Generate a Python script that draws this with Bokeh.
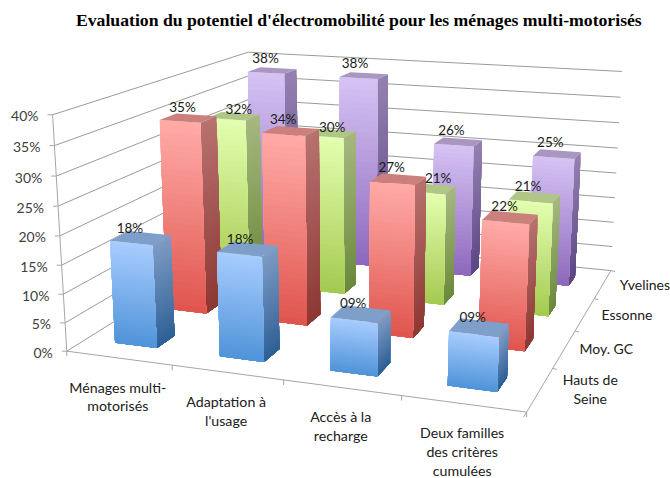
import numpy as np
from bokeh.plotting import figure
from bokeh.models import Range1d
from bokeh.core.properties import value
from bokeh.embed import file_html
from bokeh.resources import INLINE

title = "Evaluation du potentiel d'électromobilité pour les ménages multi-motorisés"
categories = ["Ménages multi-\nmotorisés", "Adaptation à\nl'usage", "Accès à la\nrecharge", "Deux familles\ndes critères\ncumulées"]
series_names = ["Hauts de\nSeine", "Moy. GC", "Essonne", "Yvelines"]
hauts_de_seine = [18, 18, 9, 9]
moy_gc = [35, 34, 27, 22]
essonne = [32, 30, 21, 21]
yvelines = [38, 38, 26, 25]
value_ticks = [0, 5, 10, 15, 20, 25, 30, 35, 40]

series_values = [hauts_de_seine, moy_gc, essonne, yvelines]
# front top, front bottom, side top, side bottom, top face
palette = [
    ("#A8CDFF", "#4F93D8", "#7E9CC4", "#2D5F95", "#7F9FCB"),
    ("#FFABA8", "#E0554D", "#B87270", "#8C3732", "#CC807D"),
    ("#E3FFB0", "#A4C94F", "#A6B880", "#6B893A", "#B0C686"),
    ("#D6C3F4", "#8D68BC", "#9581B1", "#5C4683", "#A997C2"),
]
# hand-placed data labels: nudge (dx, dy) from the automatic place
label_nudge = [
    [(-4, 2), (-1, 2), (-1, 1), (0, 1)],
    [(1, 1), (-1, 0), (0, 0), (1, 0)],
    [(12, 5), (9, 6), (15, 1), (0, 1)],
    [(0, -1), (-2, -1), (0, 0), (0, 0)],
]

# camera calibration: world (cat, depth, pct) -> picture pixel
world = np.array([(0,0,0),(4,0,0),(4,4,0),(0,0,40),(0,4,40),(4,4,40),(0,0,20),(4,4,20),
                  (1,0,0),(2,0,0),(3,0,0),(4,1,0),(4,2,0),(4,3,0)], float)
pix = np.array([(66,350),(525,411),(610,270),(52,114),(247,52),(621.5,71),(60,235),(616,173),
                (172,365),(283,380),(401,397),(553,367),(575,330),(594,298)], float)
w = world/np.array([4, 4, 40]); q_ = pix/500.0
weights = np.ones(len(w))
for _ in range(20):
    A = []
    for (X, Y, Z), (u, v), g in zip(w, q_, weights):
        A.append(g*np.array([X, Y, Z, 1, 0, 0, 0, 0, -u*X, -u*Y, -u*Z, -u]))
        A.append(g*np.array([0, 0, 0, 0, X, Y, Z, 1, -v*X, -v*Y, -v*Z, -v]))
    M = np.linalg.svd(np.array(A))[2][-1].reshape(3, 4)
    weights = 1/np.abs(M[2] @ np.c_[w, np.ones(len(w))].T)

def proj(x, y, z):
    h = M @ np.array([x/4, y/4, z/40, 1.0])
    return h[0]/h[2]*500, h[1]/h[2]*500

def hexrgb(c):
    return np.array([int(c[i:i+2], 16) for i in (1, 3, 5)], float)

def mix(c1, c2, t):
    r = hexrgb(c1)*(1-t) + hexrgb(c2)*t
    return "#%02x%02x%02x" % tuple(int(round(k)) for k in r)

p = figure(width=670, height=478, output_backend="svg", toolbar_location=None,
           x_range=Range1d(0, 670), y_range=Range1d(478, 0), min_border=0)
p.styles = {"position": "absolute", "left": "0px", "top": "0px"}
p.axis.visible = False
p.grid.visible = False
p.outline_line_color = None

# walls
gx, gy = [], []
for t in value_ticks:
    a, b, c = proj(0, 0, t), proj(0, 4, t), proj(4, 4, t)
    gx.append([a[0], b[0], c[0]]); gy.append([a[1], b[1], c[1]])
p.multi_line(gx, gy, line_color="#9a9a9a", line_width=1)

# axes
ax, ay = [], []
def seg(a, b):
    ax.append([a[0], b[0]]); ay.append([a[1], b[1]])
seg(proj(0, 0, 0), proj(0, 0, 40))
seg(proj(0, 0, 0), proj(4, 0, 0))
seg(proj(4, 0, 0), proj(4, 4, 0))
for t in value_ticks:
    a = proj(0, 0, t)
    seg(a, (a[0]-5, a[1]))
for i in range(5):
    a = proj(i, 0, 0)
    seg(a, (a[0], a[1]+5))
    b = proj(4, i, 0)
    seg(b, (b[0]+(-3 if i == 0 else 4), b[1]+(5 if i == 0 else 1)))
p.multi_line(ax, ay, line_color="#a6a6a6", line_width=1)

# bars
BX0, BX1, MY = 0.285, 0.69, 0.33
N = 32
xs, ys, cols = [], [], []
def quad(pts, col):
    xs.append([q[0] for q in pts]); ys.append([q[1] for q in pts]); cols.append(col)

for s in range(3, -1, -1):
    ft, fb, st, sb, tp = palette[s]
    for c in range(4):
        v = series_values[s][c]
        x0, x1, y0, y1 = c+BX0, c+BX1, s+MY, s+1-MY
        for k in range(N, 0, -1):
            z1 = v*k/N
            t = 1-(k-.5)/N
            quad([proj(x1,y0,0), proj(x1,y1,0), proj(x1,y1,z1), proj(x1,y0,z1)], mix(st, sb, t))
        for k in range(N, 0, -1):
            z1 = v*k/N
            t = 1-(k-.5)/N
            quad([proj(x0,y0,0), proj(x1,y0,0), proj(x1,y0,z1), proj(x0,y0,z1)], mix(ft, fb, t))
        quad([proj(x0,y0,v), proj(x1,y0,v), proj(x1,y1,v), proj(x0,y1,v)], tp)
p.patches(xs, ys, fill_color=cols, line_color=None)

def put(xv, yv, txt, size, align="center", color="#1a1a1a", font="Lato", style="normal"):
    p.text([xv], [yv], text=[txt], text_font=value(font), text_font_size=size, text_align=align,
           text_baseline="middle", text_color=color, text_font_style=style)

# data labels
for s in range(4):
    for c in range(4):
        v = series_values[s][c]
        q = proj(c+.5, s+.5, v)
        dx, dy = label_nudge[s][c]
        put(q[0]-8+dx, q[1]-12+dy, f"{v:02d}%", "13.5px")

# value labels
for t in value_ticks:
    q = proj(0, 0, t)
    put(q[0]-14, q[1]+1, f"{t}%", "14px", align="right", color="#404040")

# category labels
for c, lab in enumerate(categories):
    q = proj(c+.5, 0, 0)
    for i, line in enumerate(lab.split("\n")):
        put(q[0]-1, q[1]+29+i*18.8, line, "14.2px", color="#202020")

# series labels
for s, lab in enumerate(series_names):
    q = proj(4, s+.5, 0)
    lines = lab.split("\n")
    for i, line in enumerate(lines):
        dx = 50 if len(lines) > 1 else 42
        put(q[0]+dx, q[1]+(i-(len(lines)-1)/2)*19, line, "14px", color="#202020")

put(358.5, 19, title, "17.7px", font="Liberation Serif", style="bold", color="#000000")

open("out.html", "w").write(file_html(p, INLINE))
